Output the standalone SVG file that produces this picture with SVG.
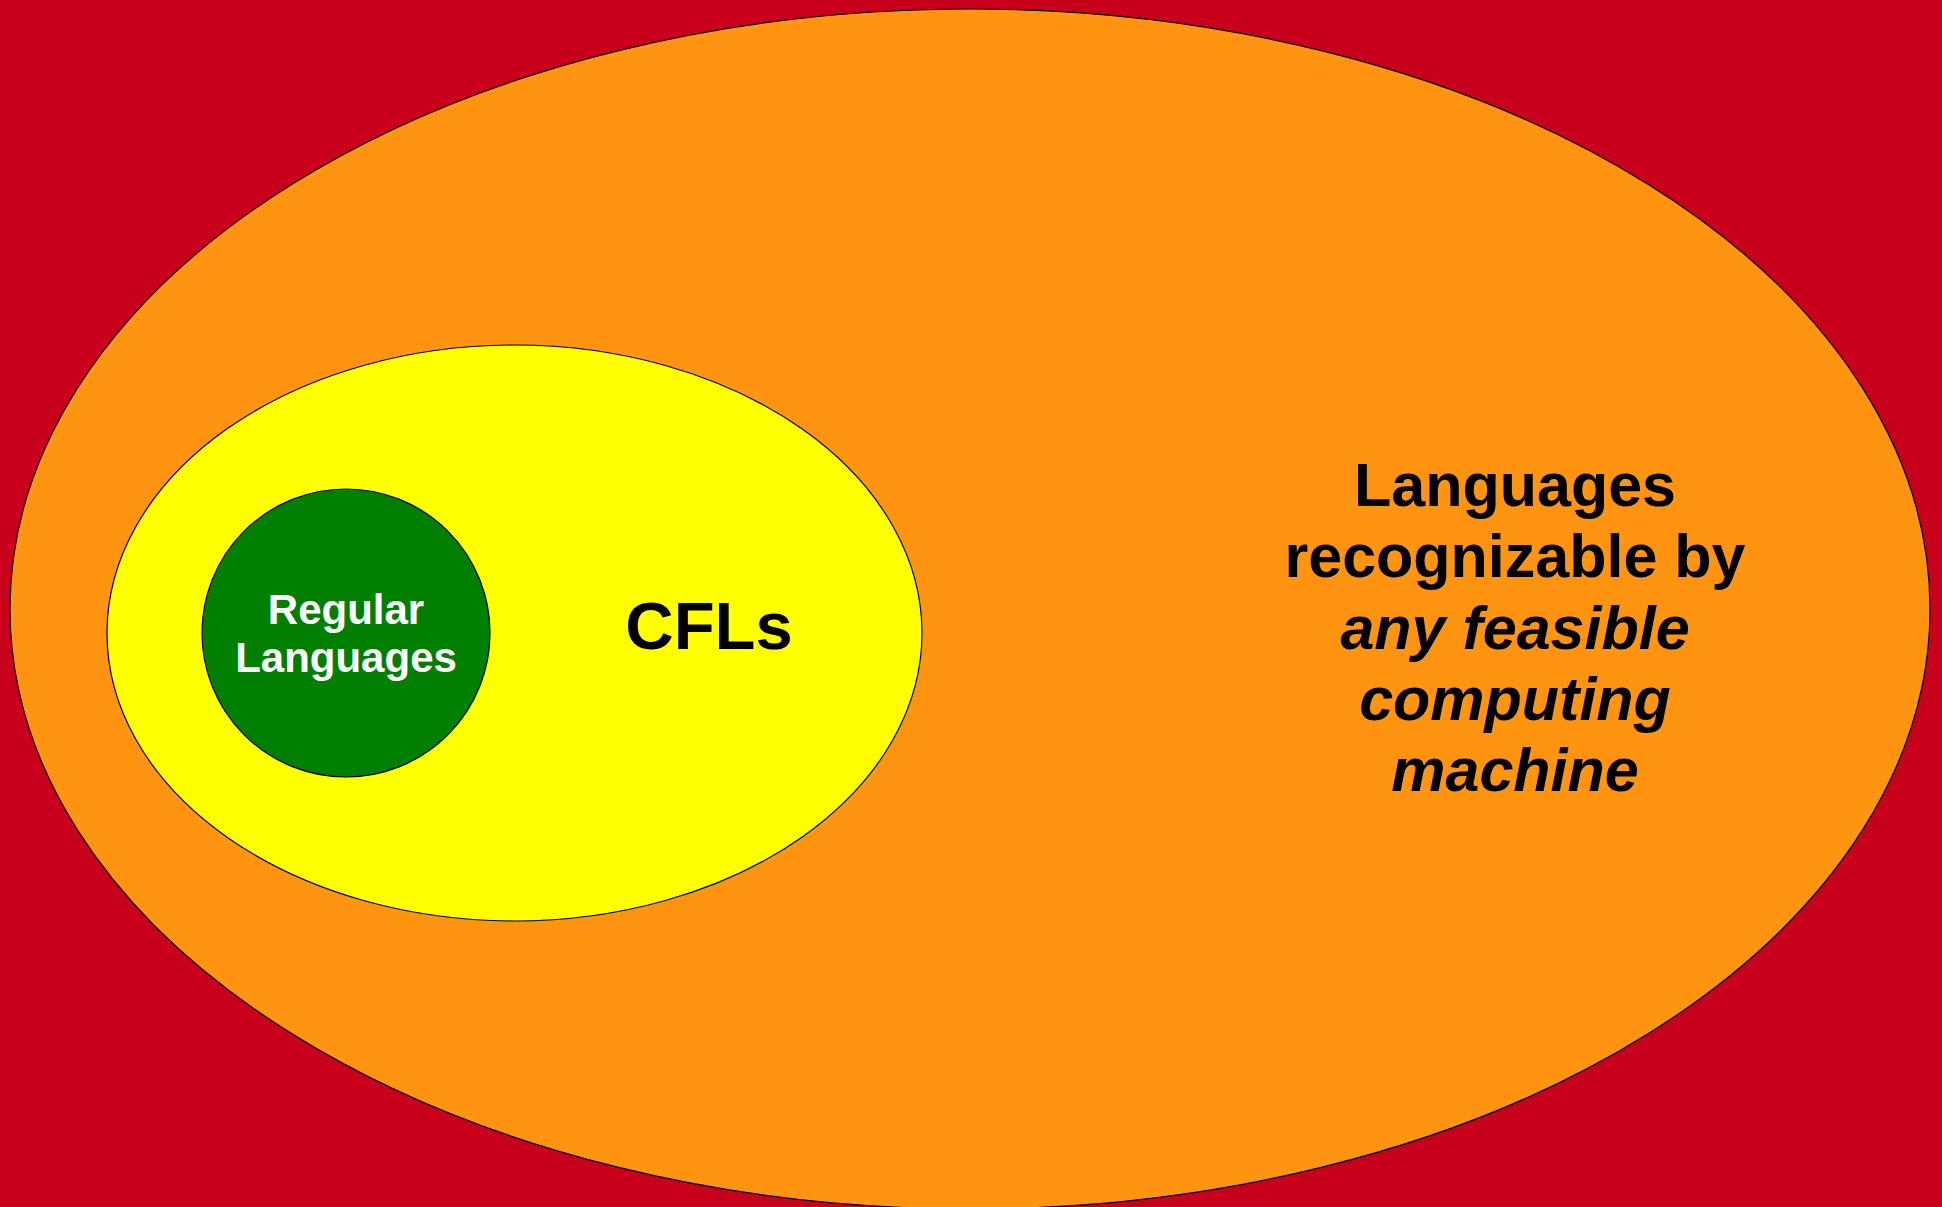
<svg xmlns="http://www.w3.org/2000/svg" width="1942" height="1207" viewBox="0 0 1942 1207">
<style>
.set{stroke:#000;stroke-width:1.2}
.t{font-family:"Liberation Sans",Arial,sans-serif;font-weight:bold;text-anchor:middle}
</style>
<rect width="1942" height="1207" fill="#c9001b"/>
<g id="all-languages">
<ellipse class="set" cx="970" cy="609" rx="960" ry="600" fill="#ff9411"/>
<text class="t" x="1515" font-size="61"><tspan x="1515" y="506">Languages</tspan><tspan x="1515" y="577">recognizable by</tspan><tspan x="1515" y="649" font-style="italic">any feasible</tspan><tspan x="1515" y="720" font-style="italic">computing</tspan><tspan x="1515" y="791" font-style="italic">machine</tspan></text>
</g>
<g id="cfls">
<ellipse class="set" cx="514.5" cy="633" rx="407.5" ry="288" fill="#ffff00"/>
<text class="t" x="709" y="648.5" font-size="67">CFLs</text>
</g>
<g id="regular">
<circle class="set" cx="346" cy="633" r="144" fill="#007f00"/>
<text class="t" fill="#fff" font-size="42"><tspan x="346" y="624">Regular</tspan><tspan x="346" y="671.5">Languages</tspan></text>
</g>
<g id="connectors"/>
</svg>
